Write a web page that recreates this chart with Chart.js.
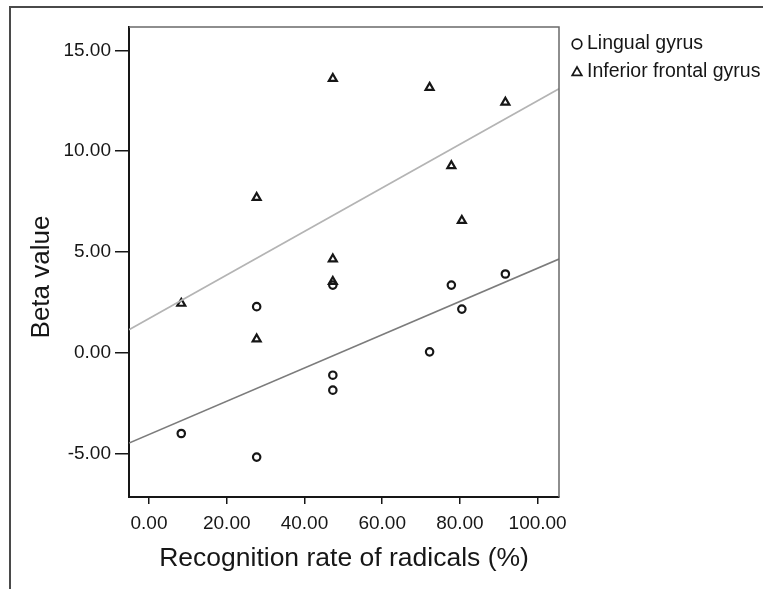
<!DOCTYPE html>
<html>
<head>
<meta charset="utf-8">
<title>Beta value vs recognition rate</title>
<script src="https://cdn.jsdelivr.net/npm/chart.js@4.4.1/dist/chart.umd.min.js"></script>
<style>
  html, body { margin: 0; padding: 0; background: #fff; }
  #wrap { width: 763px; height: 589px; }
</style>
</head>
<body>
<div id="wrap"><canvas id="chart" width="763" height="589"></canvas></div>
<script>
'use strict';

/* ── Data ── */
const lingualX = [8.3, 27.7, 27.7, 47.3, 47.3, 47.3, 72.2, 77.8, 80.5, 91.7];
const lingualY = [-4.00, 2.29, -5.17, 3.36, -1.11, -1.85, 0.05, 3.36, 2.17, 3.91];

const ifgX = [8.3, 27.7, 27.7, 47.3, 47.3, 47.3, 72.2, 77.8, 80.5, 91.7];
const ifgY = [2.45, 7.70, 0.68, 13.60, 4.65, 3.53, 13.16, 9.27, 6.56, 12.42];

const seriesLabels = ['Lingual gyrus', 'Inferior frontal gyrus'];
const xTicks = [0, 20, 40, 60, 80, 100];
const yTicks = [-5, 0, 5, 10, 15];
const yTitle = 'Beta value';
const xTitle = 'Recognition rate of radicals (%)';

const X_MIN = -5.15, X_MAX = 105.5;
const Y_MIN = -7.15, Y_MAX = 16.16;

const INK = '#161616';
const FONT = "'Liberation Sans', Arial, sans-serif";

/* ── Helpers ── */
function toPoints(xs, ys) {
  return xs.map((x, i) => ({ x, y: ys[i] }));
}

// least squares fit line, drawn across the whole x range
function fitLine(xs, ys) {
  const n = xs.length;
  const mx = xs.reduce((a, b) => a + b, 0) / n;
  const my = ys.reduce((a, b) => a + b, 0) / n;
  let sxy = 0, sxx = 0;
  xs.forEach((x, i) => { sxy += (x - mx) * (ys[i] - my); sxx += (x - mx) * (x - mx); });
  const b = sxy / sxx;
  const a = my - b * mx;
  return [{ x: X_MIN, y: a + b * X_MIN }, { x: X_MAX, y: a + b * X_MAX }];
}

/* ── Plugins: outer frame, y title, side legend ── */
const framePlugin = {
  id: 'frame',
  beforeDraw(chart) {
    const { ctx, width, height } = chart;
    ctx.save();
    ctx.fillStyle = '#fff';
    ctx.fillRect(0, 0, width, height);
    ctx.strokeStyle = '#4a4a4a';
    ctx.lineWidth = 2;
    ctx.beginPath();
    ctx.moveTo(10, height);
    ctx.lineTo(10, 7);
    ctx.lineTo(width, 7);
    ctx.stroke();
    ctx.restore();
  },
  afterDraw(chart) {
    const { ctx, chartArea: a } = chart;
    ctx.save();
    // thin lighter top/right edge of the plot box
    ctx.strokeStyle = '#6a6a6a';
    ctx.lineWidth = 1.5;
    ctx.beginPath();
    ctx.moveTo(a.left, a.top);
    ctx.lineTo(a.right, a.top);
    ctx.lineTo(a.right, a.bottom);
    ctx.stroke();

    // y title sits a little below the middle of the axis in the original
    ctx.translate(42, (a.top + a.bottom) / 2 + 15);
    ctx.rotate(-Math.PI / 2);
    ctx.font = `26px ${FONT}`;
    ctx.fillStyle = INK;
    ctx.textAlign = 'center';
    ctx.textBaseline = 'middle';
    ctx.fillText(yTitle, 0, 0);
    ctx.restore();
  }
};

const sideLegend = {
  id: 'sideLegend',
  afterDraw(chart) {
    const { ctx, chartArea: a } = chart;
    const x0 = a.right + 18;
    let y = a.top + 17;
    ctx.save();
    ctx.font = `19.5px ${FONT}`;
    ctx.textBaseline = 'middle';
    ctx.fillStyle = INK;
    ctx.strokeStyle = INK;
    ctx.lineWidth = 1.7;
    chart.data.datasets.filter(d => d.type === 'scatter').forEach(d => {
      ctx.beginPath();
      if (d.pointStyle === 'triangle') {
        ctx.moveTo(x0, y - 4.5);
        ctx.lineTo(x0 + 4.8, y + 3.8);
        ctx.lineTo(x0 - 4.8, y + 3.8);
        ctx.closePath();
      } else {
        ctx.arc(x0, y, 4.8, 0, Math.PI * 2);
      }
      ctx.stroke();
      ctx.fillText(d.label, x0 + 10, y);
      y += 27.5;
    });
    ctx.restore();
  }
};

/* ── Chart ── */
const tickFont = { family: FONT, size: 19 };
const titleFont = { family: FONT, size: 26.5 };

new Chart(document.getElementById('chart'), {
  data: {
    datasets: [
      {
        type: 'line',
        label: 'fit lingual',
        data: fitLine(lingualX, lingualY),
        borderColor: '#7c7c7c',
        borderWidth: 1.6,
        pointRadius: 0,
        fill: false,
      },
      {
        type: 'line',
        label: 'fit ifg',
        data: fitLine(ifgX, ifgY),
        borderColor: '#b4b4b4',
        borderWidth: 1.6,
        pointRadius: 0,
        fill: false,
      },
      {
        type: 'scatter',
        label: seriesLabels[0],
        data: toPoints(lingualX, lingualY),
        pointStyle: 'circle',
        pointRadius: 3.7,
        borderColor: INK,
        backgroundColor: 'rgba(0,0,0,0)',
        borderWidth: 2.2,
      },
      {
        type: 'scatter',
        label: seriesLabels[1],
        data: toPoints(ifgX, ifgY),
        pointStyle: 'triangle',
        pointRadius: 4.6,
        borderColor: INK,
        backgroundColor: 'rgba(0,0,0,0)',
        borderWidth: 2.2,
      },
    ],
  },
  options: {
    responsive: false,
    animation: false,
    layout: { padding: { left: 0, top: 27, right: 204, bottom: 0 } },
    plugins: {
      legend: { display: false },
      tooltip: { enabled: false },
    },
    scales: {
      x: {
        type: 'linear',
        min: X_MIN,
        max: X_MAX,
        afterBuildTicks: s => { s.ticks = xTicks.map(v => ({ value: v })); },
        afterFit: s => { s.height = 92; },
        border: { display: true, color: INK, width: 2 },
        grid: { drawOnChartArea: false, drawTicks: true, tickLength: 7, color: INK, lineWidth: 1.5 },
        ticks: { color: INK, font: tickFont, padding: 8, maxRotation: 0, callback: v => v.toFixed(2) },
        title: { display: true, text: xTitle, color: INK, font: titleFont, padding: { top: 0, bottom: 14 } },
      },
      y: {
        type: 'linear',
        min: Y_MIN,
        max: Y_MAX,
        afterBuildTicks: s => { s.ticks = yTicks.map(v => ({ value: v })); },
        afterFit: s => { s.width = 129; },
        border: { display: true, color: INK, width: 2 },
        grid: { drawOnChartArea: false, drawTicks: true, tickLength: 14, color: INK, lineWidth: 1.5 },
        ticks: { color: INK, font: tickFont, padding: 4, callback: v => v.toFixed(2) },
        title: { display: false },
      },
    },
  },
  plugins: [framePlugin, sideLegend],
});
</script>
</body>
</html>
